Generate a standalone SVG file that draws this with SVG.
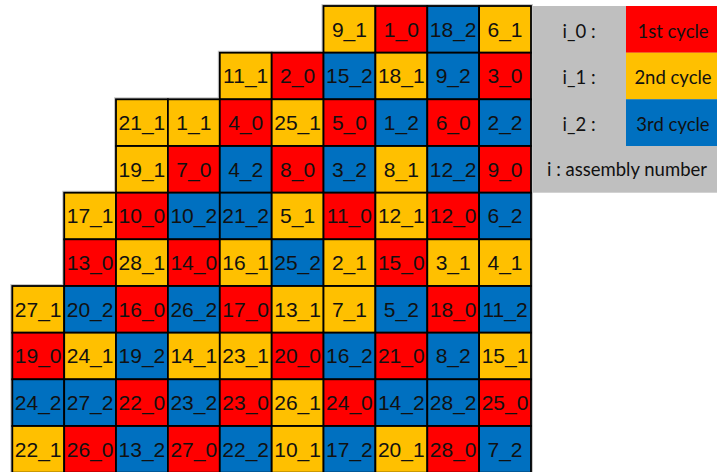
<svg xmlns="http://www.w3.org/2000/svg" width="717" height="472" viewBox="0 0 717 472">
<style>
.r{fill:#FF0000}.y{fill:#FFC000}.b{fill:#0070C0}
.cell rect{stroke:#000;stroke-width:1.8}
.cell text{font-family:"Liberation Sans",Arial,sans-serif;font-size:21px;fill:#111;text-anchor:middle}
.lg{font-family:Lato,"Open Sans",sans-serif;font-size:18.5px;fill:#111;text-anchor:middle}
</style>
<rect width="717" height="472" fill="#fff"/>
<g id="legend">
<rect x="532" y="6" width="185" height="186.7" fill="#BFBFBF"/>
<rect class="r" x="626" y="6" width="91" height="46.7"/>
<rect class="y" x="626" y="52.7" width="91" height="46.6"/>
<rect class="b" x="626" y="99.3" width="91" height="46.7"/>
<text class="lg" x="579" y="37.5">i_0 :</text>
<text class="lg" x="579" y="84.2">i_1 :</text>
<text class="lg" x="579" y="130.8">i_2 :</text>
<text class="lg" x="673" y="37.5">1st cycle</text>
<text class="lg" x="673" y="84.2">2nd cycle</text>
<text class="lg" x="673" y="130.8">3rd cycle</text>
<text class="lg" x="627" y="176">i : assembly number</text>
</g>
<path d="M12.3,473 V286 H64.2 V192.7 H116 V99.3 H219.8 V52.7 H323.5 V6 H531 V473" fill="none" stroke="#c8c8c8" stroke-width="4"/>
<g id="grid" class="cell">
<g id="c9_1" transform="translate(323.5,6)"><rect class="y" width="51.9" height="46.7"/><text x="25.9" y="30.8">9_1</text></g>
<g id="c1_0" transform="translate(375.4,6)"><rect class="r" width="51.9" height="46.7"/><text x="25.9" y="30.8">1_0</text></g>
<g id="c18_2" transform="translate(427.3,6)"><rect class="b" width="51.9" height="46.7"/><text x="25.9" y="30.8">18_2</text></g>
<g id="c6_1" transform="translate(479.1,6)"><rect class="y" width="51.9" height="46.7"/><text x="25.9" y="30.8">6_1</text></g>

<g id="c11_1" transform="translate(219.8,52.7)"><rect class="y" width="51.9" height="46.7"/><text x="25.9" y="30.8">11_1</text></g>
<g id="c2_0" transform="translate(271.7,52.7)"><rect class="r" width="51.9" height="46.7"/><text x="25.9" y="30.8">2_0</text></g>
<g id="c15_2" transform="translate(323.5,52.7)"><rect class="b" width="51.9" height="46.7"/><text x="25.9" y="30.8">15_2</text></g>
<g id="c18_1" transform="translate(375.4,52.7)"><rect class="y" width="51.9" height="46.7"/><text x="25.9" y="30.8">18_1</text></g>
<g id="c9_2" transform="translate(427.3,52.7)"><rect class="b" width="51.9" height="46.7"/><text x="25.9" y="30.8">9_2</text></g>
<g id="c3_0" transform="translate(479.1,52.7)"><rect class="r" width="51.9" height="46.7"/><text x="25.9" y="30.8">3_0</text></g>

<g id="c21_1" transform="translate(116,99.3)"><rect class="y" width="51.9" height="46.7"/><text x="25.9" y="30.8">21_1</text></g>
<g id="c1_1" transform="translate(167.9,99.3)"><rect class="y" width="51.9" height="46.7"/><text x="25.9" y="30.8">1_1</text></g>
<g id="c4_0" transform="translate(219.8,99.3)"><rect class="r" width="51.9" height="46.7"/><text x="25.9" y="30.8">4_0</text></g>
<g id="c25_1" transform="translate(271.7,99.3)"><rect class="y" width="51.9" height="46.7"/><text x="25.9" y="30.8">25_1</text></g>
<g id="c5_0" transform="translate(323.5,99.3)"><rect class="r" width="51.9" height="46.7"/><text x="25.9" y="30.8">5_0</text></g>
<g id="c1_2" transform="translate(375.4,99.3)"><rect class="b" width="51.9" height="46.7"/><text x="25.9" y="30.8">1_2</text></g>
<g id="c6_0" transform="translate(427.3,99.3)"><rect class="r" width="51.9" height="46.7"/><text x="25.9" y="30.8">6_0</text></g>
<g id="c2_2" transform="translate(479.1,99.3)"><rect class="b" width="51.9" height="46.7"/><text x="25.9" y="30.8">2_2</text></g>

<g id="c19_1" transform="translate(116,146)"><rect class="y" width="51.9" height="46.7"/><text x="25.9" y="30.8">19_1</text></g>
<g id="c7_0" transform="translate(167.9,146)"><rect class="r" width="51.9" height="46.7"/><text x="25.9" y="30.8">7_0</text></g>
<g id="c4_2" transform="translate(219.8,146)"><rect class="b" width="51.9" height="46.7"/><text x="25.9" y="30.8">4_2</text></g>
<g id="c8_0" transform="translate(271.7,146)"><rect class="r" width="51.9" height="46.7"/><text x="25.9" y="30.8">8_0</text></g>
<g id="c3_2" transform="translate(323.5,146)"><rect class="b" width="51.9" height="46.7"/><text x="25.9" y="30.8">3_2</text></g>
<g id="c8_1" transform="translate(375.4,146)"><rect class="y" width="51.9" height="46.7"/><text x="25.9" y="30.8">8_1</text></g>
<g id="c12_2" transform="translate(427.3,146)"><rect class="b" width="51.9" height="46.7"/><text x="25.9" y="30.8">12_2</text></g>
<g id="c9_0" transform="translate(479.1,146)"><rect class="r" width="51.9" height="46.7"/><text x="25.9" y="30.8">9_0</text></g>

<g id="c17_1" transform="translate(64.2,192.7)"><rect class="y" width="51.9" height="46.7"/><text x="25.9" y="30.8">17_1</text></g>
<g id="c10_0" transform="translate(116,192.7)"><rect class="r" width="51.9" height="46.7"/><text x="25.9" y="30.8">10_0</text></g>
<g id="c10_2" transform="translate(167.9,192.7)"><rect class="b" width="51.9" height="46.7"/><text x="25.9" y="30.8">10_2</text></g>
<g id="c21_2" transform="translate(219.8,192.7)"><rect class="b" width="51.9" height="46.7"/><text x="25.9" y="30.8">21_2</text></g>
<g id="c5_1" transform="translate(271.7,192.7)"><rect class="y" width="51.9" height="46.7"/><text x="25.9" y="30.8">5_1</text></g>
<g id="c11_0" transform="translate(323.5,192.7)"><rect class="r" width="51.9" height="46.7"/><text x="25.9" y="30.8">11_0</text></g>
<g id="c12_1" transform="translate(375.4,192.7)"><rect class="y" width="51.9" height="46.7"/><text x="25.9" y="30.8">12_1</text></g>
<g id="c12_0" transform="translate(427.3,192.7)"><rect class="r" width="51.9" height="46.7"/><text x="25.9" y="30.8">12_0</text></g>
<g id="c6_2" transform="translate(479.1,192.7)"><rect class="b" width="51.9" height="46.7"/><text x="25.9" y="30.8">6_2</text></g>

<g id="c13_0" transform="translate(64.2,239.3)"><rect class="r" width="51.9" height="46.7"/><text x="25.9" y="30.8">13_0</text></g>
<g id="c28_1" transform="translate(116,239.3)"><rect class="y" width="51.9" height="46.7"/><text x="25.9" y="30.8">28_1</text></g>
<g id="c14_0" transform="translate(167.9,239.3)"><rect class="r" width="51.9" height="46.7"/><text x="25.9" y="30.8">14_0</text></g>
<g id="c16_1" transform="translate(219.8,239.3)"><rect class="y" width="51.9" height="46.7"/><text x="25.9" y="30.8">16_1</text></g>
<g id="c25_2" transform="translate(271.7,239.3)"><rect class="b" width="51.9" height="46.7"/><text x="25.9" y="30.8">25_2</text></g>
<g id="c2_1" transform="translate(323.5,239.3)"><rect class="y" width="51.9" height="46.7"/><text x="25.9" y="30.8">2_1</text></g>
<g id="c15_0" transform="translate(375.4,239.3)"><rect class="r" width="51.9" height="46.7"/><text x="25.9" y="30.8">15_0</text></g>
<g id="c3_1" transform="translate(427.3,239.3)"><rect class="y" width="51.9" height="46.7"/><text x="25.9" y="30.8">3_1</text></g>
<g id="c4_1" transform="translate(479.1,239.3)"><rect class="y" width="51.9" height="46.7"/><text x="25.9" y="30.8">4_1</text></g>

<g id="c27_1" transform="translate(12.3,286)"><rect class="y" width="51.9" height="46.7"/><text x="25.9" y="30.8">27_1</text></g>
<g id="c20_2" transform="translate(64.2,286)"><rect class="b" width="51.9" height="46.7"/><text x="25.9" y="30.8">20_2</text></g>
<g id="c16_0" transform="translate(116,286)"><rect class="r" width="51.9" height="46.7"/><text x="25.9" y="30.8">16_0</text></g>
<g id="c26_2" transform="translate(167.9,286)"><rect class="b" width="51.9" height="46.7"/><text x="25.9" y="30.8">26_2</text></g>
<g id="c17_0" transform="translate(219.8,286)"><rect class="r" width="51.9" height="46.7"/><text x="25.9" y="30.8">17_0</text></g>
<g id="c13_1" transform="translate(271.7,286)"><rect class="y" width="51.9" height="46.7"/><text x="25.9" y="30.8">13_1</text></g>
<g id="c7_1" transform="translate(323.5,286)"><rect class="y" width="51.9" height="46.7"/><text x="25.9" y="30.8">7_1</text></g>
<g id="c5_2" transform="translate(375.4,286)"><rect class="b" width="51.9" height="46.7"/><text x="25.9" y="30.8">5_2</text></g>
<g id="c18_0" transform="translate(427.3,286)"><rect class="r" width="51.9" height="46.7"/><text x="25.9" y="30.8">18_0</text></g>
<g id="c11_2" transform="translate(479.1,286)"><rect class="b" width="51.9" height="46.7"/><text x="25.9" y="30.8">11_2</text></g>

<g id="c19_0" transform="translate(12.3,332.7)"><rect class="r" width="51.9" height="46.7"/><text x="25.9" y="30.8">19_0</text></g>
<g id="c24_1" transform="translate(64.2,332.7)"><rect class="y" width="51.9" height="46.7"/><text x="25.9" y="30.8">24_1</text></g>
<g id="c19_2" transform="translate(116,332.7)"><rect class="b" width="51.9" height="46.7"/><text x="25.9" y="30.8">19_2</text></g>
<g id="c14_1" transform="translate(167.9,332.7)"><rect class="y" width="51.9" height="46.7"/><text x="25.9" y="30.8">14_1</text></g>
<g id="c23_1" transform="translate(219.8,332.7)"><rect class="y" width="51.9" height="46.7"/><text x="25.9" y="30.8">23_1</text></g>
<g id="c20_0" transform="translate(271.7,332.7)"><rect class="r" width="51.9" height="46.7"/><text x="25.9" y="30.8">20_0</text></g>
<g id="c16_2" transform="translate(323.5,332.7)"><rect class="b" width="51.9" height="46.7"/><text x="25.9" y="30.8">16_2</text></g>
<g id="c21_0" transform="translate(375.4,332.7)"><rect class="r" width="51.9" height="46.7"/><text x="25.9" y="30.8">21_0</text></g>
<g id="c8_2" transform="translate(427.3,332.7)"><rect class="b" width="51.9" height="46.7"/><text x="25.9" y="30.8">8_2</text></g>
<g id="c15_1" transform="translate(479.1,332.7)"><rect class="y" width="51.9" height="46.7"/><text x="25.9" y="30.8">15_1</text></g>

<g id="c24_2" transform="translate(12.3,379.3)"><rect class="b" width="51.9" height="46.7"/><text x="25.9" y="30.8">24_2</text></g>
<g id="c27_2" transform="translate(64.2,379.3)"><rect class="b" width="51.9" height="46.7"/><text x="25.9" y="30.8">27_2</text></g>
<g id="c22_0" transform="translate(116,379.3)"><rect class="r" width="51.9" height="46.7"/><text x="25.9" y="30.8">22_0</text></g>
<g id="c23_2" transform="translate(167.9,379.3)"><rect class="b" width="51.9" height="46.7"/><text x="25.9" y="30.8">23_2</text></g>
<g id="c23_0" transform="translate(219.8,379.3)"><rect class="r" width="51.9" height="46.7"/><text x="25.9" y="30.8">23_0</text></g>
<g id="c26_1" transform="translate(271.7,379.3)"><rect class="y" width="51.9" height="46.7"/><text x="25.9" y="30.8">26_1</text></g>
<g id="c24_0" transform="translate(323.5,379.3)"><rect class="r" width="51.9" height="46.7"/><text x="25.9" y="30.8">24_0</text></g>
<g id="c14_2" transform="translate(375.4,379.3)"><rect class="b" width="51.9" height="46.7"/><text x="25.9" y="30.8">14_2</text></g>
<g id="c28_2" transform="translate(427.3,379.3)"><rect class="b" width="51.9" height="46.7"/><text x="25.9" y="30.8">28_2</text></g>
<g id="c25_0" transform="translate(479.1,379.3)"><rect class="r" width="51.9" height="46.7"/><text x="25.9" y="30.8">25_0</text></g>

<g id="c22_1" transform="translate(12.3,426)"><rect class="y" width="51.9" height="46.7"/><text x="25.9" y="30.8">22_1</text></g>
<g id="c26_0" transform="translate(64.2,426)"><rect class="r" width="51.9" height="46.7"/><text x="25.9" y="30.8">26_0</text></g>
<g id="c13_2" transform="translate(116,426)"><rect class="b" width="51.9" height="46.7"/><text x="25.9" y="30.8">13_2</text></g>
<g id="c27_0" transform="translate(167.9,426)"><rect class="r" width="51.9" height="46.7"/><text x="25.9" y="30.8">27_0</text></g>
<g id="c22_2" transform="translate(219.8,426)"><rect class="b" width="51.9" height="46.7"/><text x="25.9" y="30.8">22_2</text></g>
<g id="c10_1" transform="translate(271.7,426)"><rect class="y" width="51.9" height="46.7"/><text x="25.9" y="30.8">10_1</text></g>
<g id="c17_2" transform="translate(323.5,426)"><rect class="b" width="51.9" height="46.7"/><text x="25.9" y="30.8">17_2</text></g>
<g id="c20_1" transform="translate(375.4,426)"><rect class="y" width="51.9" height="46.7"/><text x="25.9" y="30.8">20_1</text></g>
<g id="c28_0" transform="translate(427.3,426)"><rect class="r" width="51.9" height="46.7"/><text x="25.9" y="30.8">28_0</text></g>
<g id="c7_2" transform="translate(479.1,426)"><rect class="b" width="51.9" height="46.7"/><text x="25.9" y="30.8">7_2</text></g>
</g>
<g id="connectors"/>
</svg>
